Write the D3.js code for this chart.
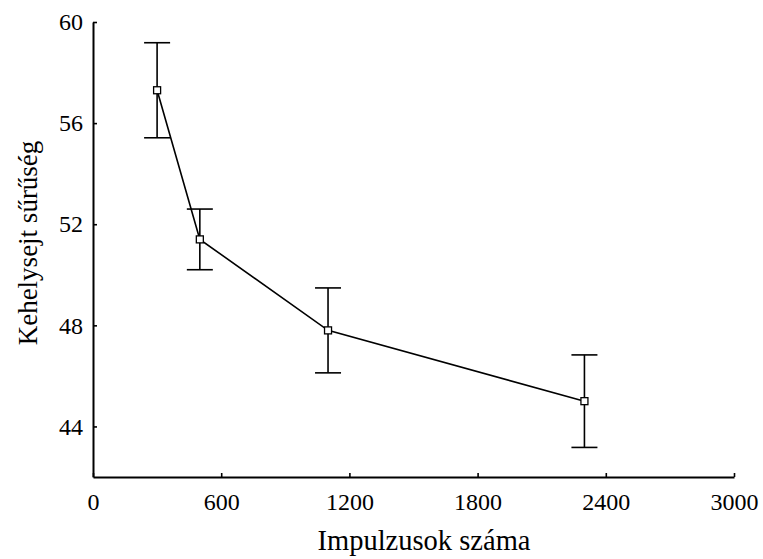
<!DOCTYPE html>
<html>
<head>
<meta charset="utf-8">
<script src="https://cdn.jsdelivr.net/npm/d3@7"></script>
<style>
  body { margin: 0; background: #fff; }
  svg text { font-family: 'Liberation Serif', 'Times New Roman', Times, serif; }
</style>
</head>
<body>
<div id="chart"></div>
<script>
const impulses = [300, 500, 1100, 2300]
const density = [57.3, 51.4, 47.8, 45.0]
const errors = [1.88, 1.2, 1.68, 1.83]
const xTicks = [0, 600, 1200, 1800, 2400, 3000]
const yTicks = [44, 48, 52, 56, 60]

const svgWidth = 763
const svgHeight = 559

const x = d3.scaleLinear().domain([0, 3000]).range([93, 734])
const y = d3.scaleLinear().domain([42, 60]).range([477, 22])

const svg = d3.select('#chart').append('svg').attr('width', svgWidth).attr('height', svgHeight)

svg.append('rect').attr('width', svgWidth).attr('height', svgHeight).attr('fill', '#ffffff')

const styleAxis = (g) => {
  g.attr('font-family', null)
  g.select('.domain').attr('stroke', '#000').attr('stroke-width', 2)
  g.selectAll('.tick line').attr('stroke', '#000').attr('stroke-width', 1.6)
  g.selectAll('.tick text').attr('font-size', 24).attr('fill', '#000')
}

svg
  .append('g')
  .attr('transform', `translate(0, ${y(42)})`)
  .call(d3.axisBottom(x).tickValues(xTicks).tickSizeInner(-4).tickSizeOuter(0).tickPadding(16).tickFormat(d3.format('d')))
  .call(styleAxis)

svg
  .append('g')
  .attr('transform', `translate(${x(0)}, 0)`)
  .call(d3.axisLeft(y).tickValues(yTicks).tickSizeInner(-4).tickSizeOuter(0).tickPadding(10).tickFormat(d3.format('d')))
  .call(styleAxis)

const points = impulses.map((d, i) => ({ x: d, y: density[i], e: errors[i] }))

// error bars
const CAP = 13
const bars = svg.append('g').attr('stroke', '#000').attr('stroke-width', 1.6)
points.forEach((p) => {
  bars.append('line').attr('x1', x(p.x)).attr('x2', x(p.x)).attr('y1', y(p.y - p.e)).attr('y2', y(p.y + p.e))
  ;[p.y - p.e, p.y + p.e].forEach((v) => {
    bars.append('line').attr('x1', x(p.x) - CAP).attr('x2', x(p.x) + CAP).attr('y1', y(v)).attr('y2', y(v))
  })
})

svg
  .append('path')
  .datum(points)
  .attr('fill', 'none')
  .attr('stroke', '#000')
  .attr('stroke-width', 1.6)
  .attr('d', d3.line().x((d) => x(d.x)).y((d) => y(d.y)))

svg
  .append('g')
  .selectAll('rect')
  .data(points)
  .join('rect')
  .attr('x', (d) => x(d.x) - 3.5)
  .attr('y', (d) => y(d.y) - 3.5)
  .attr('width', 7)
  .attr('height', 7)
  .attr('fill', '#fff')
  .attr('stroke', '#000')
  .attr('stroke-width', 1.3)

svg
  .append('text')
  .attr('x', 424)
  .attr('y', 550)
  .attr('text-anchor', 'middle')
  .attr('font-size', 28.5)
  .text('Impulzusok száma')

svg
  .append('text')
  .attr('transform', `translate(37, 243) rotate(-90)`)
  .attr('text-anchor', 'middle')
  .attr('font-size', 27)
  .text('Kehelysejt sűrűség')
</script>
</body>
</html>
